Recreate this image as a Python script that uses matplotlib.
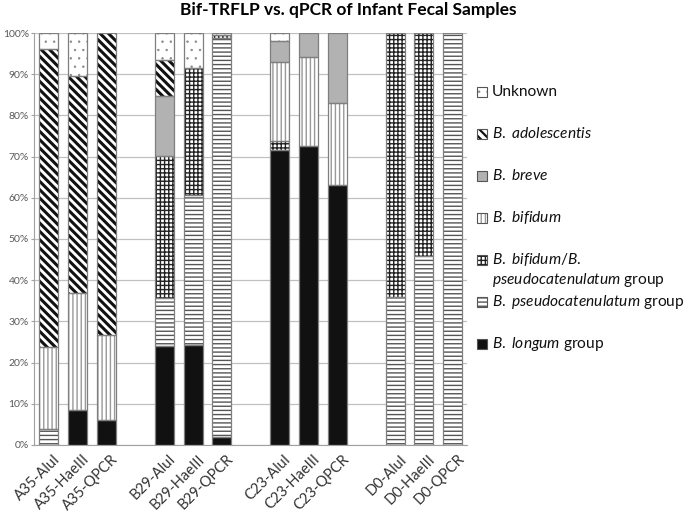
import numpy as np
import matplotlib
matplotlib.use('Agg')
import matplotlib.pyplot as plt
from matplotlib.patches import Rectangle

plt.rcParams['font.family'] = ['Lato', 'DejaVu Sans']
plt.rcParams['mathtext.fontset'] = 'custom'
plt.rcParams['mathtext.rm'] = 'Lato'
plt.rcParams['mathtext.it'] = 'Lato:italic'

# samples (three per infant, one empty slot between infants)
samples = ['A35-AluI', 'A35-HaeIII', 'A35-QPCR',
           'B29-AluI', 'B29-HaeIII', 'B29-QPCR',
           'C23-AluI', 'C23-HaeIII', 'C23-QPCR',
           'D0-AluI', 'D0-HaeIII', 'D0-QPCR']
slots = [0, 1, 2, 4, 5, 6, 8, 9, 10, 12, 13, 14]

# percent of each group, stacked from the bottom
longum = [0, 8.5, 6.0, 24.0, 24.3, 1.9, 71.7, 72.5, 63.0, 0, 0, 0]
pseudocat = [3.8, 0, 0, 11.6, 36.3, 96.9, 0, 0, 0, 36.0, 45.9, 100]
bif_pseudo = [0, 0, 0, 34.6, 30.9, 0.8, 2.1, 0, 0, 64.0, 54.1, 0]
bifidum = [20.0, 28.3, 20.7, 0, 0, 0, 19.1, 21.7, 20.0, 0, 0, 0]
breve = [0, 0, 0, 14.6, 0, 0, 5.2, 5.8, 17.0, 0, 0, 0]
adolescentis = [72.4, 52.8, 73.3, 8.7, 0, 0, 0, 0, 0, 0, 0, 0]
unknown = [3.8, 10.4, 0, 6.5, 8.5, 0.4, 1.9, 0, 0, 0, 0, 0]

# name, values, face, hatch, hatch colour, hatch width
series = [
    ('longum', longum, '#111111', '', '#808080', 1.0),
    ('pseudocat', pseudocat, 'white', '----', '#555555', 1.0),
    ('bif_pseudo', bif_pseudo, 'white', '++++', '#222222', 1.0),
    ('bifidum', bifidum, 'white', '||||', '#999999', 1.0),
    ('breve', breve, '#b2b2b2', '', '#808080', 1.0),
    ('adolescentis', adolescentis, 'white', '\\\\\\\\', '#111111', 2.2),
    ('unknown', unknown, 'white', '..', '#888888', 0.5),
]

fig = plt.figure(figsize=(6.89, 5.12), dpi=100)
ax = fig.add_axes([0.050, 0.131, 0.628, 0.8045])

x = np.array(slots, dtype=float)
bottom = np.zeros(len(samples))
for name, vals, face, hatch, hcol, hlw in series:
    vals = np.array(vals, dtype=float)
    m = vals > 0
    bars = ax.bar(x[m], vals[m], 0.66, bottom=bottom[m], color=face,
                  edgecolor=hcol, hatch=hatch or None, linewidth=0, zorder=2)
    for b in bars:
        if hasattr(b, 'set_hatch_linewidth'):
            b.set_hatch_linewidth(hlw)
    # grey outline on top
    ax.bar(x[m], vals[m], 0.66, bottom=bottom[m], fill=False,
           edgecolor='#7f7f7f', linewidth=0.9, zorder=3)
    bottom = bottom + vals

ax.set_xlim(-0.5, 14.5)
ax.set_ylim(0, 100)
ax.set_yticks(np.arange(0, 101, 10))
ax.set_yticklabels([f'{v}%' for v in range(0, 101, 10)], fontsize=7.5, color='#595959')
ax.yaxis.grid(True, color='#c0c0c0', linewidth=0.9, zorder=0)
ax.set_xticks(x + 0.15)
ax.set_xticklabels(samples, rotation=45, ha='right', rotation_mode='anchor',
                   fontsize=10.5, color='#333333')
ax.tick_params(axis='x', length=0, pad=5)
ax.tick_params(axis='y', length=2, color='#a0a0a0', pad=2)
for s in ['top', 'right']:
    ax.spines[s].set_visible(False)
for s in ['left', 'bottom']:
    ax.spines[s].set_color('#a0a0a0')

fig.suptitle('Bif-TRFLP vs. qPCR of Infant Fecal Samples', fontsize=12.5,
             fontweight='bold', y=0.997, va='top', x=0.505)

# legend drawn Excel-style (top entry = last stacked series)
leg_items = [
    ('unknown', ['Unknown']),
    ('adolescentis', [r'$\mathit{B.\ adolescentis}$']),
    ('breve', [r'$\mathit{B.\ breve}$']),
    ('bifidum', [r'$\mathit{B.\ bifidum}$']),
    ('bif_pseudo', [r'$\mathit{B.\ bifidum/B.}$', r'$\mathit{pseudocatenulatum}$ group']),
    ('pseudocat', [r'$\mathit{B.\ pseudocatenulatum}$ group']),
    ('longum', [r'$\mathit{B.\ longum}$ group']),
]
style = {s[0]: s for s in series}
W, H = 689.0, 512.0
y0, dy = 92.0, 42.0
for i, (key, lines) in enumerate(leg_items):
    _, _, face, hatch, hcol, hlw = style[key]
    yc = y0 + i * dy
    r = Rectangle((477 / W, 1 - (yc + 5) / H), 10 / W, 10 / H, transform=fig.transFigure,
                  facecolor=face, edgecolor=hcol, hatch=hatch or None, linewidth=0)
    if hasattr(r, 'set_hatch_linewidth'):
        r.set_hatch_linewidth(min(hlw, 1.6))
    fig.add_artist(r)
    fig.add_artist(Rectangle((477 / W, 1 - (yc + 5) / H), 10 / W, 10 / H,
                             transform=fig.transFigure, fill=False,
                             edgecolor='#555555', linewidth=0.8))
    for j, txt in enumerate(lines):
        fig.text(492 / W, 1 - (yc + j * 20) / H, txt, fontsize=11.2,
                 va='center', ha='left', color='#111111')

fig.savefig('out.png', dpi=100)
